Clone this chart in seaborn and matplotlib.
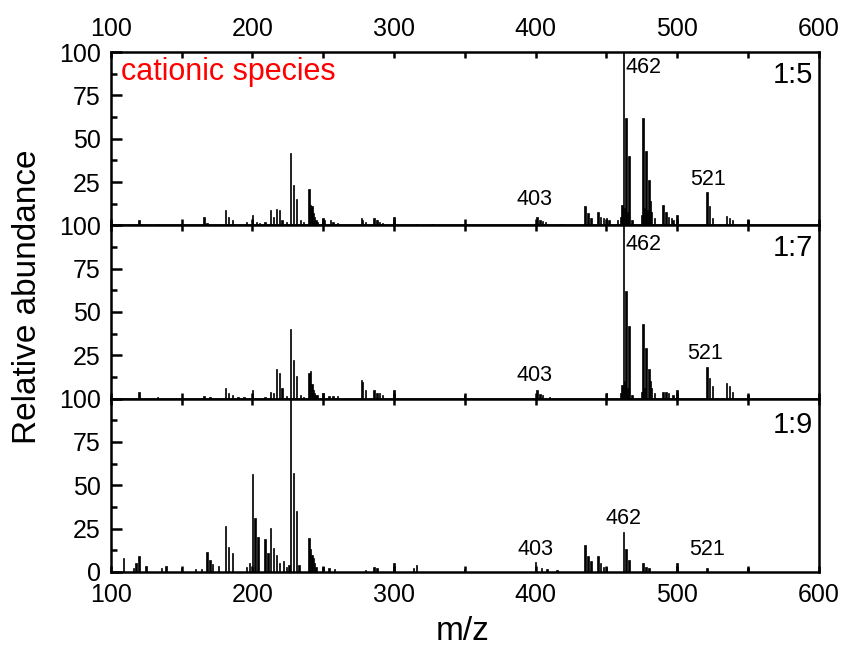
import numpy as np
import pandas as pd
import matplotlib
matplotlib.use("Agg")
import matplotlib.pyplot as plt
from matplotlib.ticker import MultipleLocator
import seaborn as sns

# ---------------- data ----------------
mz_15 = [120, 133, 166, 168, 181, 183, 186, 196, 200, 203, 205, 209, 213, 215, 217, 219, 221, 224,
         227, 229, 231, 234, 236, 240, 241, 242, 243, 244, 245, 246, 250, 251, 255, 257, 260,
         277, 278, 280, 286, 288, 290, 292, 300, 316, 327, 350, 401, 403, 405, 407, 417, 419,
         435, 437, 439, 444, 446, 448, 450, 452, 458, 460, 461, 462, 463, 464, 465, 466, 468,
         475, 476, 477, 478, 479, 480, 481, 482, 484, 490, 492, 494, 496, 497, 500,
         521, 523, 525, 535, 537, 539, 550]
ab_15 = [3, 1, 5, 1.5, 9, 5, 3, 2, 6, 2, 1.5, 2, 9, 5, 9.5, 9, 3, 2,
         42, 23.5, 15.5, 3, 2, 21, 12, 11, 7, 5, 3, 2, 4, 3, 3, 2, 1.5,
         4, 3, 2, 4, 3, 2, 1.5, 5, 1, 1, 1, 5, 3, 2.5, 2, 1, 1,
         11, 7, 4, 8, 5, 4, 4, 3, 3, 5, 12, 100, 10, 62, 8, 40, 3,
         6, 62, 10, 43, 9, 26, 14, 8, 4, 12, 8, 5, 4, 3, 6,
         19.5, 11, 4, 5.5, 4.5, 3, 3]

mz_17 = [120, 133, 166, 170, 181, 183, 186, 190, 194, 200, 209, 213, 215, 217, 219, 221, 224,
         227, 229, 231, 234, 236, 240, 241, 242, 243, 244, 245, 246, 250, 254, 257, 260,
         277, 278, 280, 286, 288, 290, 292, 300, 350, 401, 403, 405, 410, 450,
         460, 461, 462, 463, 464, 465, 466, 468, 475, 476, 477, 478, 480, 481, 482, 484,
         490, 492, 494, 497, 500, 521, 523, 525, 535, 537, 539, 550]
ab_17 = [4, 1, 1.5, 1, 6, 3, 2, 1, 1, 5, 1, 4, 3, 17, 15, 6, 1.5,
         40, 22, 13, 2, 1, 15, 16, 8.5, 5, 3, 2, 2, 3, 1.5, 1.5, 1.5,
         11, 9.5, 5, 5, 3.5, 3, 2, 5, 2, 5, 2.5, 2, 1, 3,
         3, 8, 100, 10, 62, 6, 42, 2, 4, 43, 6, 29, 17, 10, 6, 3,
         4, 4, 3, 2, 5, 18, 12, 7, 9, 7, 4, 2]

mz_19 = [109, 116, 118, 120, 125, 136, 139, 150, 160, 164, 168, 170, 172, 176, 181, 183, 186,
         196, 198, 200, 202, 204, 209, 211, 213, 215, 217, 219, 222, 224, 226,
         227, 229, 231, 233, 240, 241, 242, 243, 244, 245, 250, 254, 258, 280, 286, 288,
         300, 314, 316, 350, 400, 404, 408, 415, 435, 437, 439, 444, 446, 448, 450,
         462, 464, 466, 476, 478, 480, 500, 521, 550]
ab_19 = [7.7, 2, 5, 9, 3.5, 2, 3.5, 2, 1.5, 1.5, 11.6, 6.6, 4.6, 3.5, 26.5, 14.5, 10.6,
         2.5, 5, 56.4, 31, 20, 19, 10.6, 25.5, 13.7, 9.5, 5, 6, 3, 4,
         100, 57, 35, 4, 19.5, 13, 9.6, 7.7, 5, 3, 3, 2, 1.5, 1, 3, 2,
         5, 2, 4, 1.5, 5.8, 2, 1.5, 1, 15.4, 9.3, 6, 9, 5, 3, 3,
         23.2, 13, 7, 5, 3, 2, 5, 2, 2]

ratios = ["1:5", "1:7", "1:9"]
peak_labels = ["462", "403", "521"]

spectra = pd.concat([
    pd.DataFrame({"mz": mz_15, "abundance": ab_15, "ratio": "1:5"}),
    pd.DataFrame({"mz": mz_17, "abundance": ab_17, "ratio": "1:7"}),
    pd.DataFrame({"mz": mz_19, "abundance": ab_19, "ratio": "1:9"}),
], ignore_index=True)

# ---------------- style ----------------
sns.set_theme(style="ticks")
plt.rcParams["font.family"] = ["Liberation Sans", "DejaVu Sans"]
plt.rcParams["text.color"] = "black"
plt.rcParams["xtick.color"] = "black"
plt.rcParams["ytick.color"] = "black"
plt.rcParams["axes.labelcolor"] = "black"
plt.rcParams["axes.edgecolor"] = "black"
plt.rcParams["axes.linewidth"] = 1.8

fig, axes = plt.subplots(3, 1, figsize=(8.45, 6.52), dpi=100, sharex=True)
fig.subplots_adjust(left=0.131, right=0.969, top=0.920, bottom=0.123, hspace=0)

# label positions (m/z, abundance) per panel: 462, 403, 521
label_pos = {
    "1:5": [(463.5, 91, "left"), (399, 15, "center"), (521.5, 26.5, "center")],
    "1:7": [(463.5, 89, "left"), (399, 13.5, "center"), (520, 26, "center")],
    "1:9": [(462, 31, "center"), (400, 12.6, "center"), (521, 12.6, "center")],
}
ratio_y = [87, 87, 85]

for i, (ax, r) in enumerate(zip(axes, ratios)):
    d = spectra[spectra["ratio"] == r]
    sns.histplot(data=d, x="mz", weights="abundance", discrete=True, ax=ax,
                 color="black", edgecolor="black", linewidth=0.5, alpha=1, shrink=1.0)
    ax.set_xlim(100, 600)
    ax.set_ylim(0, 100)
    ax.set_xlabel("")
    ax.set_ylabel("")
    ax.xaxis.set_major_locator(MultipleLocator(100))
    ax.xaxis.set_minor_locator(MultipleLocator(50))
    if i == 2:
        ax.set_yticks([0, 25, 50, 75, 100])
    else:
        ax.set_yticks([25, 50, 75, 100])
    ax.yaxis.set_minor_locator(MultipleLocator(12.5))
    for s in ax.spines.values():
        s.set_visible(True)
        s.set_linewidth(1.8)
        s.set_color("black")
    ax.tick_params(axis="x", which="both", direction="in", top=True, bottom=True,
                   labeltop=(i == 0), labelbottom=(i == 2), length=4, width=1.8,
                   labelsize=18, pad=8, color="black", labelcolor="black")
    ax.tick_params(axis="y", which="major", direction="in", left=True, right=False,
                   length=8, width=1.8, labelsize=18, pad=7, color="black",
                   labelcolor="black")
    ax.tick_params(axis="y", which="minor", direction="in", left=True, right=False,
                   length=4, width=1.8, color="black")
    ax.text(596, ratio_y[i], r, ha="right", va="center", fontsize=21, color="black")
    for (x, y, ha), lab in zip(label_pos[r], peak_labels):
        ax.text(x, y, lab, ha=ha, va="center", fontsize=15.5, color="black")

axes[0].text(107, 88.5, "cationic species", color="red", ha="left", va="center", fontsize=22)

fig.text(28 / 845, 1 - 297 / 652, "Relative abundance", rotation=90, ha="center",
         va="center", fontsize=24, color="black")
fig.text(463 / 845, 1 - 632 / 652, "m/z", ha="center", va="center", fontsize=24,
         color="black")

fig.savefig("out.png", dpi=100)
